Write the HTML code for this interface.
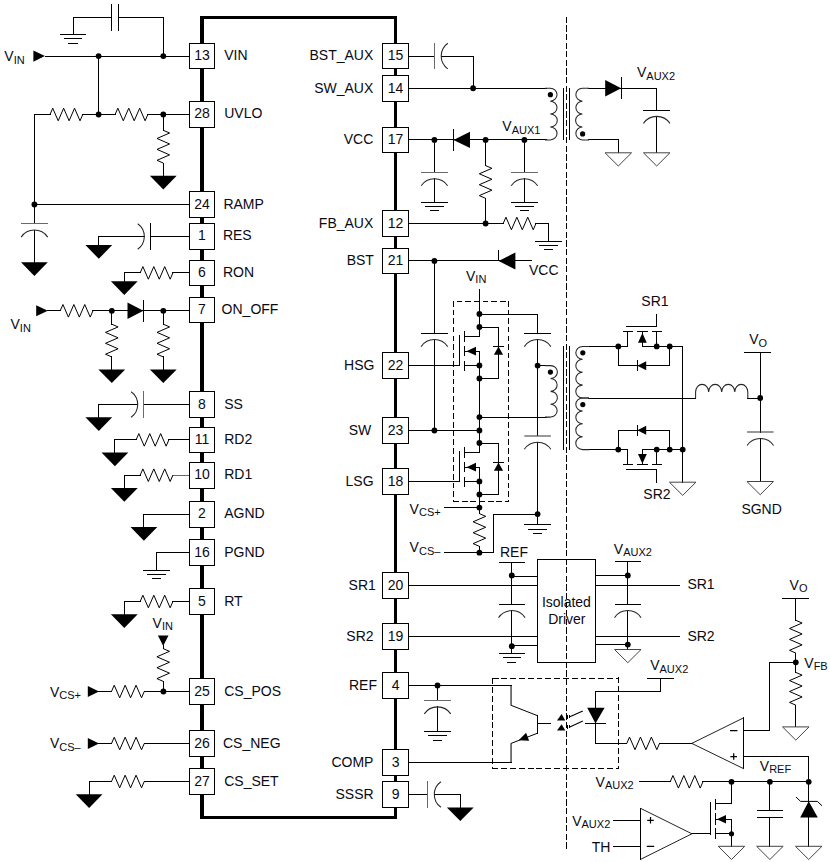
<!DOCTYPE html>
<html><head><meta charset="utf-8"><title>Typical application schematic</title>
<style>
html,body{margin:0;padding:0;background:#fff}
svg{display:block}
.w{fill:none;stroke:#000;stroke-width:1;stroke-linecap:butt;stroke-linejoin:miter}
.w .k{fill:#000;stroke:none}
.w .b{fill:#fff;stroke:#000;stroke-width:1}
.w .c{stroke:#262626;stroke-width:1.05}
.x{shape-rendering:crispEdges;stroke-linecap:square}
.t{font-family:"Liberation Sans",Arial,sans-serif;font-size:14px;fill:#0a0a14}
.t .s{font-size:11px}
</style></head><body>
<svg width="830" height="862" viewBox="0 0 830 862">
<rect width="830" height="862" fill="#fff"/>
<g class="w x">
<rect x="202" y="17.6" width="193.6" height="799.9" fill="none" stroke="#000" stroke-width="3.5"/>
<line x1="45.5" y1="56.5" x2="189.5" y2="56.5"/>
<line x1="163.5" y1="56.5" x2="163.5" y2="17.5"/>
<line x1="163.5" y1="17.5" x2="118.5" y2="17.5"/>
<line x1="118.5" y1="4.5" x2="118.5" y2="30.5"/>
<line x1="111.5" y1="4.5" x2="111.5" y2="30.5"/>
<line x1="111.5" y1="17.5" x2="73.5" y2="17.5"/>
<line x1="73.5" y1="17.5" x2="73.5" y2="34.5"/>
<line x1="60.5" y1="34.5" x2="85.5" y2="34.5"/>
<line x1="64.5" y1="38.5" x2="81.5" y2="38.5"/>
<line x1="68.5" y1="43.5" x2="77.5" y2="43.5"/>
<line x1="98.5" y1="56.5" x2="98.5" y2="114.5"/>
<line x1="34.5" y1="114.5" x2="50.5" y2="114.5"/>
<line x1="82.5" y1="114.5" x2="115.5" y2="114.5"/>
<line x1="147.5" y1="114.5" x2="189.5" y2="114.5"/>
<line x1="163.5" y1="114.5" x2="163.5" y2="130.5"/>
<line x1="163.5" y1="163.5" x2="163.5" y2="176.5"/>
<line x1="34.5" y1="114.5" x2="34.5" y2="223.5"/>
<line x1="34.5" y1="204.5" x2="189.5" y2="204.5"/>
<line x1="21.5" y1="223.5" x2="47.5" y2="223.5" stroke="#6a6a6a"/>
<line x1="34.5" y1="230.5" x2="34.5" y2="262.5"/>
<line x1="189.5" y1="236.5" x2="150.5" y2="236.5"/>
<line x1="150.5" y1="223.5" x2="150.5" y2="249.5"/>
<line x1="144.5" y1="236.5" x2="98.5" y2="236.5"/>
<line x1="98.5" y1="236.5" x2="98.5" y2="245.5"/>
<line x1="189.5" y1="272.5" x2="172.5" y2="272.5"/>
<line x1="140.5" y1="272.5" x2="124.5" y2="272.5"/>
<line x1="124.5" y1="272.5" x2="124.5" y2="281.5"/>
<line x1="47.5" y1="310.5" x2="60.5" y2="310.5"/>
<line x1="92.5" y1="310.5" x2="189.5" y2="310.5"/>
<line x1="143.5" y1="300.5" x2="143.5" y2="321.5"/>
<line x1="111.5" y1="310.5" x2="111.5" y2="324.5"/>
<line x1="111.5" y1="356.5" x2="111.5" y2="369.5"/>
<line x1="163.5" y1="310.5" x2="163.5" y2="324.5"/>
<line x1="163.5" y1="356.5" x2="163.5" y2="369.5"/>
<line x1="189.5" y1="404.5" x2="143.5" y2="404.5"/>
<line x1="143.5" y1="391.5" x2="143.5" y2="417.5" stroke="#6a6a6a"/>
<line x1="137.5" y1="404.5" x2="98.5" y2="404.5"/>
<line x1="98.5" y1="404.5" x2="98.5" y2="417.5"/>
<line x1="189.5" y1="439.5" x2="168.5" y2="439.5"/>
<line x1="136.5" y1="439.5" x2="114.5" y2="439.5"/>
<line x1="114.5" y1="439.5" x2="114.5" y2="452.5"/>
<line x1="189.5" y1="475.5" x2="172.5" y2="475.5" stroke="#6a6a6a"/>
<line x1="140.5" y1="475.5" x2="124.5" y2="475.5"/>
<line x1="124.5" y1="475.5" x2="124.5" y2="488.5"/>
<line x1="189.5" y1="514.5" x2="143.5" y2="514.5"/>
<line x1="143.5" y1="514.5" x2="143.5" y2="527.5"/>
<line x1="189.5" y1="552.5" x2="156.5" y2="552.5"/>
<line x1="156.5" y1="552.5" x2="156.5" y2="570.5"/>
<line x1="143.5" y1="570.5" x2="169.5" y2="570.5"/>
<line x1="147.5" y1="574.5" x2="165.5" y2="574.5"/>
<line x1="152.5" y1="578.5" x2="160.5" y2="578.5"/>
<line x1="189.5" y1="601.5" x2="172.5" y2="601.5"/>
<line x1="140.5" y1="601.5" x2="124.5" y2="601.5"/>
<line x1="124.5" y1="601.5" x2="124.5" y2="614.5"/>
<line x1="98.5" y1="691.5" x2="111.5" y2="691.5"/>
<line x1="144.5" y1="691.5" x2="189.5" y2="691.5"/>
<line x1="163.5" y1="645.5" x2="163.5" y2="648.5"/>
<line x1="163.5" y1="681.5" x2="163.5" y2="691.5"/>
<line x1="98.5" y1="743.5" x2="111.5" y2="743.5"/>
<line x1="144.5" y1="743.5" x2="189.5" y2="743.5"/>
<line x1="189.5" y1="781.5" x2="144.5" y2="781.5"/>
<line x1="111.5" y1="781.5" x2="89.5" y2="781.5"/>
<line x1="89.5" y1="781.5" x2="89.5" y2="794.5"/>
<line x1="566.5" y1="16.8" x2="566.5" y2="848.9" stroke-dasharray="6.1 2.5" stroke-linecap="butt"/>
<line x1="408.5" y1="56.5" x2="434.5" y2="56.5"/>
<line x1="434.5" y1="43.5" x2="434.5" y2="68.5" stroke="#6a6a6a"/>
<line x1="441.5" y1="56.5" x2="473.5" y2="56.5"/>
<line x1="473.5" y1="56.5" x2="473.5" y2="88.5"/>
<line x1="408.5" y1="88.5" x2="546.5" y2="88.5"/>
<line x1="563.5" y1="88.5" x2="563.5" y2="139.5" stroke="#000"/>
<line x1="569.5" y1="88.5" x2="569.5" y2="139.5" stroke="#000"/>
<line x1="588.5" y1="88.5" x2="656.5" y2="88.5"/>
<line x1="621.5" y1="77.5" x2="621.5" y2="98.5"/>
<line x1="656.5" y1="88.5" x2="656.5" y2="110.5"/>
<line x1="643.5" y1="110.5" x2="669.5" y2="110.5"/>
<line x1="656.5" y1="116.5" x2="656.5" y2="152.5"/>
<line x1="588.5" y1="139.5" x2="618.5" y2="139.5"/>
<line x1="618.5" y1="139.5" x2="618.5" y2="152.5"/>
<line x1="408.5" y1="139.5" x2="546.5" y2="139.5"/>
<line x1="453.5" y1="129.5" x2="453.5" y2="150.5"/>
<line x1="434.5" y1="139.5" x2="434.5" y2="172.5"/>
<line x1="421.5" y1="172.5" x2="447.5" y2="172.5" stroke="#6a6a6a"/>
<line x1="434.5" y1="178.5" x2="434.5" y2="202.5"/>
<line x1="421.5" y1="202.5" x2="447.5" y2="202.5"/>
<line x1="425.5" y1="206.5" x2="443.5" y2="206.5"/>
<line x1="430.5" y1="210.5" x2="438.5" y2="210.5"/>
<line x1="524.5" y1="139.5" x2="524.5" y2="172.5"/>
<line x1="511.5" y1="172.5" x2="537.5" y2="172.5" stroke="#6a6a6a"/>
<line x1="524.5" y1="178.5" x2="524.5" y2="202.5"/>
<line x1="511.5" y1="202.5" x2="537.5" y2="202.5"/>
<line x1="515.5" y1="206.5" x2="533.5" y2="206.5"/>
<line x1="520.5" y1="210.5" x2="528.5" y2="210.5"/>
<line x1="485.5" y1="139.5" x2="485.5" y2="165.5"/>
<line x1="485.5" y1="198.5" x2="485.5" y2="223.5"/>
<line x1="408.5" y1="223.5" x2="503.5" y2="223.5"/>
<line x1="535.5" y1="223.5" x2="548.5" y2="223.5"/>
<line x1="548.5" y1="223.5" x2="548.5" y2="241.5"/>
<line x1="535.5" y1="241.5" x2="561.5" y2="241.5"/>
<line x1="539.5" y1="245.5" x2="557.5" y2="245.5"/>
<line x1="544.5" y1="249.5" x2="552.5" y2="249.5"/>
<line x1="408.5" y1="260.5" x2="531.5" y2="260.5"/>
<line x1="498.5" y1="250.5" x2="498.5" y2="260.5"/>
<line x1="479.5" y1="289.5" x2="479.5" y2="336.5"/>
<line x1="479.5" y1="351.5" x2="479.5" y2="452.5"/>
<line x1="479.5" y1="467.5" x2="479.5" y2="513.5"/>
<line x1="479.5" y1="546.5" x2="479.5" y2="552.5"/>
<line x1="453.5" y1="300.9" x2="453.5" y2="502" stroke-dasharray="5.6 3.05" stroke-linecap="butt"/>
<line x1="508.5" y1="300.9" x2="508.5" y2="502" stroke-dasharray="5.6 3.05" stroke-linecap="butt"/>
<line x1="456.6" y1="301.5" x2="508.2" y2="301.5" stroke-dasharray="5.8 2.88" stroke-linecap="butt"/>
<line x1="452.9" y1="501.5" x2="509.1" y2="501.5" stroke-dasharray="5.95 2.75" stroke-linecap="butt"/>
<line x1="464.5" y1="331.5" x2="464.5" y2="341.5"/>
<line x1="464.5" y1="346.5" x2="464.5" y2="355.5"/>
<line x1="464.5" y1="361.5" x2="464.5" y2="370.5"/>
<line x1="464.5" y1="336.5" x2="479.5" y2="336.5"/>
<line x1="464.5" y1="365.5" x2="479.5" y2="365.5"/>
<line x1="464.5" y1="351.5" x2="479.5" y2="351.5"/>
<line x1="459.5" y1="335.5" x2="459.5" y2="365.5"/>
<line x1="408.5" y1="365.5" x2="459.5" y2="365.5"/>
<line x1="479.5" y1="327.5" x2="498.5" y2="327.5"/>
<line x1="498.5" y1="327.5" x2="498.5" y2="378.5"/>
<line x1="498.5" y1="378.5" x2="479.5" y2="378.5"/>
<line x1="493.5" y1="346.5" x2="503.5" y2="346.5"/>
<line x1="408.5" y1="430.5" x2="479.5" y2="430.5"/>
<line x1="464.5" y1="447.5" x2="464.5" y2="457.5"/>
<line x1="464.5" y1="462.5" x2="464.5" y2="471.5"/>
<line x1="464.5" y1="477.5" x2="464.5" y2="486.5"/>
<line x1="464.5" y1="452.5" x2="479.5" y2="452.5"/>
<line x1="464.5" y1="481.5" x2="479.5" y2="481.5"/>
<line x1="464.5" y1="467.5" x2="479.5" y2="467.5"/>
<line x1="459.5" y1="451.5" x2="459.5" y2="481.5"/>
<line x1="408.5" y1="481.5" x2="459.5" y2="481.5"/>
<line x1="479.5" y1="443.5" x2="498.5" y2="443.5"/>
<line x1="498.5" y1="443.5" x2="498.5" y2="494.5"/>
<line x1="498.5" y1="494.5" x2="479.5" y2="494.5"/>
<line x1="493.5" y1="462.5" x2="503.5" y2="462.5"/>
<line x1="434.5" y1="260.5" x2="434.5" y2="333.5"/>
<line x1="421.5" y1="333.5" x2="447.5" y2="333.5"/>
<line x1="434.5" y1="339.5" x2="434.5" y2="430.5"/>
<line x1="479.5" y1="314.5" x2="537.5" y2="314.5"/>
<line x1="537.5" y1="314.5" x2="537.5" y2="333.5"/>
<line x1="524.5" y1="333.5" x2="550.5" y2="333.5"/>
<line x1="537.5" y1="339.5" x2="537.5" y2="365.5"/>
<line x1="537.5" y1="365.5" x2="546.5" y2="365.5"/>
<line x1="479.5" y1="417.5" x2="546.5" y2="417.5"/>
<line x1="537.5" y1="365.5" x2="537.5" y2="435.5"/>
<line x1="537.5" y1="442.5" x2="537.5" y2="524.5"/>
<line x1="524.5" y1="524.5" x2="550.5" y2="524.5"/>
<line x1="528.5" y1="529.5" x2="546.5" y2="529.5"/>
<line x1="533.5" y1="533.5" x2="541.5" y2="533.5"/>
<line x1="444.5" y1="507.5" x2="479.5" y2="507.5"/>
<line x1="444.5" y1="552.5" x2="493.5" y2="552.5"/>
<line x1="493.5" y1="552.5" x2="493.5" y2="514.5"/>
<line x1="493.5" y1="514.5" x2="537.5" y2="514.5"/>
<line x1="563.5" y1="346.5" x2="563.5" y2="449.5" stroke="#000"/>
<line x1="569.5" y1="346.5" x2="569.5" y2="449.5" stroke="#000"/>
<line x1="588.5" y1="346.5" x2="618.5" y2="346.5"/>
<line x1="623.5" y1="331.5" x2="632.5" y2="331.5"/>
<line x1="637.5" y1="331.5" x2="647.5" y2="331.5"/>
<line x1="652.5" y1="331.5" x2="661.5" y2="331.5"/>
<line x1="618.5" y1="346.5" x2="627.5" y2="346.5"/>
<line x1="627.5" y1="346.5" x2="627.5" y2="331.5"/>
<line x1="656.5" y1="346.5" x2="656.5" y2="331.5"/>
<line x1="642.5" y1="331.5" x2="642.5" y2="346.5"/>
<line x1="642.5" y1="346.5" x2="656.5" y2="346.5"/>
<line x1="626.5" y1="326.5" x2="656.5" y2="326.5"/>
<line x1="656.5" y1="326.5" x2="656.5" y2="314.5"/>
<line x1="618.5" y1="346.5" x2="618.5" y2="365.5"/>
<line x1="618.5" y1="365.5" x2="669.5" y2="365.5"/>
<line x1="669.5" y1="365.5" x2="669.5" y2="346.5"/>
<line x1="637.5" y1="360.5" x2="637.5" y2="370.5"/>
<line x1="656.5" y1="346.5" x2="682.5" y2="346.5"/>
<line x1="682.5" y1="346.5" x2="682.5" y2="482.5"/>
<line x1="588.5" y1="449.5" x2="618.5" y2="449.5"/>
<line x1="623.5" y1="464.5" x2="632.5" y2="464.5"/>
<line x1="637.5" y1="464.5" x2="647.5" y2="464.5"/>
<line x1="652.5" y1="464.5" x2="661.5" y2="464.5"/>
<line x1="618.5" y1="449.5" x2="627.5" y2="449.5"/>
<line x1="627.5" y1="449.5" x2="627.5" y2="464.5"/>
<line x1="656.5" y1="449.5" x2="656.5" y2="464.5"/>
<line x1="642.5" y1="464.5" x2="642.5" y2="449.5"/>
<line x1="642.5" y1="449.5" x2="656.5" y2="449.5"/>
<line x1="626.5" y1="469.5" x2="656.5" y2="469.5"/>
<line x1="656.5" y1="469.5" x2="656.5" y2="482.5"/>
<line x1="618.5" y1="449.5" x2="618.5" y2="430.5"/>
<line x1="618.5" y1="430.5" x2="669.5" y2="430.5"/>
<line x1="669.5" y1="430.5" x2="669.5" y2="449.5"/>
<line x1="637.5" y1="425.5" x2="637.5" y2="435.5"/>
<line x1="656.5" y1="449.5" x2="682.5" y2="449.5"/>
<line x1="588.5" y1="398.5" x2="695.5" y2="398.5"/>
<line x1="747.5" y1="398.5" x2="760.5" y2="398.5"/>
<line x1="744.5" y1="352.5" x2="770.5" y2="352.5"/>
<line x1="760.5" y1="352.5" x2="760.5" y2="398.5"/>
<line x1="760.5" y1="398.5" x2="760.5" y2="432.5"/>
<line x1="760.5" y1="438.5" x2="760.5" y2="481.5"/>
<line x1="537.5" y1="559.5" x2="595.5" y2="559.5"/>
<line x1="595.5" y1="559.5" x2="595.5" y2="662.5"/>
<line x1="595.5" y1="662.5" x2="537.5" y2="662.5"/>
<line x1="537.5" y1="662.5" x2="537.5" y2="559.5"/>
<line x1="408.5" y1="585.5" x2="537.5" y2="585.5"/>
<line x1="408.5" y1="636.5" x2="537.5" y2="636.5"/>
<line x1="595.5" y1="585.5" x2="679.5" y2="585.5"/>
<line x1="595.5" y1="636.5" x2="679.5" y2="636.5"/>
<line x1="499.5" y1="562.5" x2="524.5" y2="562.5"/>
<line x1="511.5" y1="562.5" x2="511.5" y2="604.5"/>
<line x1="511.5" y1="576.5" x2="537.5" y2="576.5"/>
<line x1="499.5" y1="604.5" x2="524.5" y2="604.5"/>
<line x1="511.5" y1="610.5" x2="511.5" y2="653.5"/>
<line x1="511.5" y1="645.5" x2="537.5" y2="645.5"/>
<line x1="499.5" y1="653.5" x2="524.5" y2="653.5"/>
<line x1="503.5" y1="657.5" x2="520.5" y2="657.5"/>
<line x1="507.5" y1="662.5" x2="515.5" y2="662.5"/>
<line x1="615.5" y1="561.5" x2="640.5" y2="561.5"/>
<line x1="627.5" y1="561.5" x2="627.5" y2="604.5"/>
<line x1="595.5" y1="575.5" x2="627.5" y2="575.5"/>
<line x1="615.5" y1="604.5" x2="640.5" y2="604.5"/>
<line x1="627.5" y1="610.5" x2="627.5" y2="649.5"/>
<line x1="595.5" y1="644.5" x2="627.5" y2="644.5"/>
<line x1="408.5" y1="685.5" x2="511.5" y2="685.5"/>
<line x1="437.5" y1="685.5" x2="437.5" y2="700.5"/>
<line x1="424.5" y1="700.5" x2="450.5" y2="700.5" stroke="#6a6a6a"/>
<line x1="437.5" y1="706.5" x2="437.5" y2="731.5"/>
<line x1="424.5" y1="731.5" x2="450.5" y2="731.5"/>
<line x1="428.5" y1="735.5" x2="446.5" y2="735.5"/>
<line x1="433.5" y1="740.5" x2="441.5" y2="740.5"/>
<line x1="537.5" y1="715.5" x2="537.5" y2="733.5"/>
<line x1="408.5" y1="762.5" x2="511.5" y2="762.5"/>
<line x1="537.5" y1="723.5" x2="550.5" y2="723.5"/>
<line x1="492.5" y1="678.2" x2="492.5" y2="768.9" stroke-dasharray="5.9 2.95" stroke-linecap="butt"/>
<line x1="618.5" y1="677.2" x2="618.5" y2="768.9" stroke-dasharray="5.9 2.95" stroke-linecap="butt"/>
<line x1="492.6" y1="678.5" x2="619.3" y2="678.5" stroke-dasharray="5.9 2.89" stroke-linecap="butt"/>
<line x1="492.2" y1="768.5" x2="619.3" y2="768.5" stroke-dasharray="5.9 2.95" stroke-linecap="butt"/>
<line x1="567.5" y1="715.5" x2="567.5" y2="718.5"/>
<line x1="569.5" y1="715.5" x2="569.5" y2="717.5"/>
<line x1="567.5" y1="725.5" x2="567.5" y2="728.5"/>
<line x1="569.5" y1="725.5" x2="569.5" y2="727.5"/>
<line x1="660.5" y1="678.5" x2="660.5" y2="691.5"/>
<line x1="660.5" y1="691.5" x2="595.5" y2="691.5"/>
<line x1="595.5" y1="691.5" x2="595.5" y2="743.5"/>
<line x1="595.5" y1="743.5" x2="626.5" y2="743.5"/>
<line x1="647.5" y1="678.5" x2="673.5" y2="678.5"/>
<line x1="585.5" y1="723.5" x2="605.5" y2="723.5"/>
<line x1="659.5" y1="743.5" x2="692.5" y2="743.5"/>
<line x1="743.5" y1="717.5" x2="743.5" y2="768.5"/>
<line x1="743.5" y1="730.5" x2="769.5" y2="730.5"/>
<line x1="769.5" y1="730.5" x2="769.5" y2="662.5"/>
<line x1="769.5" y1="662.5" x2="795.5" y2="662.5"/>
<line x1="782.5" y1="598.5" x2="808.5" y2="598.5"/>
<line x1="795.5" y1="598.5" x2="795.5" y2="620.5"/>
<line x1="795.5" y1="653.5" x2="795.5" y2="672.5"/>
<line x1="795.5" y1="705.5" x2="795.5" y2="726.5"/>
<line x1="743.5" y1="756.5" x2="808.5" y2="756.5"/>
<line x1="808.5" y1="756.5" x2="808.5" y2="846.5"/>
<line x1="639.5" y1="781.5" x2="670.5" y2="781.5"/>
<line x1="702.5" y1="781.5" x2="808.5" y2="781.5"/>
<line x1="769.5" y1="781.5" x2="769.5" y2="810.5"/>
<line x1="757.5" y1="810.5" x2="782.5" y2="810.5"/>
<line x1="757.5" y1="817.5" x2="782.5" y2="817.5"/>
<line x1="769.5" y1="817.5" x2="769.5" y2="846.5"/>
<line x1="731.5" y1="781.5" x2="731.5" y2="803.5"/>
<line x1="731.5" y1="803.5" x2="715.5" y2="803.5"/>
<line x1="715.5" y1="799.5" x2="715.5" y2="809.5"/>
<line x1="715.5" y1="813.5" x2="715.5" y2="824.5"/>
<line x1="715.5" y1="828.5" x2="715.5" y2="838.5"/>
<line x1="710.5" y1="802.5" x2="710.5" y2="834.5"/>
<line x1="715.5" y1="819.5" x2="731.5" y2="819.5"/>
<line x1="731.5" y1="819.5" x2="731.5" y2="846.5"/>
<line x1="715.5" y1="833.5" x2="731.5" y2="833.5"/>
<line x1="640.5" y1="808.5" x2="640.5" y2="859.5"/>
<line x1="691.5" y1="833.5" x2="710.5" y2="833.5"/>
<line x1="613.5" y1="820.5" x2="640.5" y2="820.5"/>
<line x1="613.5" y1="846.5" x2="640.5" y2="846.5"/>
<line x1="408.5" y1="794.5" x2="427.5" y2="794.5"/>
<line x1="427.5" y1="781.5" x2="427.5" y2="807.5" stroke="#6a6a6a"/>
<line x1="434.5" y1="794.5" x2="460.5" y2="794.5"/>
<line x1="460.5" y1="794.5" x2="460.5" y2="807.5"/>
</g>
<g class="w">
<polygon class="k" points="33.4,50.5 33.4,61.7 44.9,56.1"/>
<circle class="k" cx="98.6" cy="56.1" r="2.9"/>
<circle class="k" cx="163.3" cy="56.1" r="2.9"/>
<circle class="k" cx="98.6" cy="114.5" r="2.9"/>
<circle class="k" cx="163.3" cy="114.5" r="2.9"/>
<polyline points="50,114.5 52.73,108.2 58.19,120.8 63.65,108.2 69.1,120.8 74.56,108.2 80.02,120.8 82.75,114.5"/>
<polyline points="115.1,114.5 117.83,108.2 123.29,120.8 128.75,108.2 134.2,120.8 139.66,108.2 145.12,120.8 147.85,114.5"/>
<polyline points="163.3,130.3 169.6,133.03 157,138.49 169.6,143.95 157,149.4 169.6,154.86 157,160.32 163.3,163.05"/>
<polygon class="k" points="149.9,175.8 176.7,175.8 163.3,189.5"/>
<circle class="k" cx="34.4" cy="204.5" r="2.9"/>
<path d="M21.15 237.1 A16.04 16.04 0 0 1 47.65 237.1" class="c"/>
<polygon class="k" points="21,262.2 47.8,262.2 34.4,275.9"/>
<path d="M137.7 223.7 A15.71 15.71 0 0 1 137.7 249.3" class="c"/>
<polygon class="k" points="85.4,245.1 112.2,245.1 98.8,258.8"/>
<polyline points="140.15,272.9 142.88,266.6 148.34,279.2 153.8,266.6 159.25,279.2 164.71,266.6 170.17,279.2 172.9,272.9"/>
<polygon class="k" points="110.9,281.2 137.7,281.2 124.3,294.9"/>
<polygon class="k" points="36.2,305.3 36.2,316.3 47.8,310.8"/>
<polyline points="60.2,310.8 62.93,304.5 68.39,317.1 73.85,304.5 79.3,317.1 84.76,304.5 90.22,317.1 92.95,310.8"/>
<circle class="k" cx="111.8" cy="310.8" r="2.9"/>
<circle class="k" cx="163.3" cy="310.8" r="2.9"/>
<polygon class="k" points="127.5,302.6 127.5,319 143.4,310.8"/>
<polyline points="111.8,324.2 118.1,326.93 105.5,332.39 118.1,337.85 105.5,343.3 118.1,348.76 105.5,354.22 111.8,356.95"/>
<polygon class="k" points="98.4,369.4 125.2,369.4 111.8,383.1"/>
<polyline points="163.3,324.2 169.6,326.93 157,332.39 169.6,337.85 157,343.3 169.6,348.76 157,354.22 163.3,356.95"/>
<polygon class="k" points="149.9,369.4 176.7,369.4 163.3,383.1"/>
<path d="M131.1 391.7 A15.71 15.71 0 0 1 131.1 417.3" class="c"/>
<polygon class="k" points="85.4,417.2 112.2,417.2 98.8,430.9"/>
<polyline points="136.1,439.9 138.83,433.6 144.29,446.2 149.75,433.6 155.2,446.2 160.66,433.6 166.12,446.2 168.85,439.9"/>
<polygon class="k" points="101.5,452.6 128.3,452.6 114.9,466.3"/>
<polyline points="140.15,475.2 142.88,468.9 148.34,481.5 153.8,468.9 159.25,481.5 164.71,468.9 170.17,481.5 172.9,475.2"/>
<polygon class="k" points="110.9,488.1 137.7,488.1 124.3,501.8"/>
<polygon class="k" points="130.5,527.1 157.3,527.1 143.9,540.8"/>
<polyline points="140.15,601.5 142.88,595.2 148.34,607.8 153.8,595.2 159.25,607.8 164.71,595.2 170.17,607.8 172.9,601.5"/>
<polygon class="k" points="110.9,614.3 137.7,614.3 124.3,628"/>
<polygon class="k" points="87.8,686 87.8,697 99,691.5"/>
<polyline points="111.5,691.5 114.23,685.2 119.69,697.8 125.15,685.2 130.6,697.8 136.06,685.2 141.52,697.8 144.25,691.5"/>
<circle class="k" cx="163.4" cy="691.5" r="2.9"/>
<polygon class="k" points="157.9,635.4 168.5,635.4 163.2,646"/>
<polyline points="163.2,648.6 169.5,651.33 156.9,656.79 169.5,662.25 156.9,667.7 169.5,673.16 156.9,678.62 163.2,681.35"/>
<polygon class="k" points="87.8,738 87.8,749 99,743.5"/>
<polyline points="111.5,743.5 114.23,737.2 119.69,749.8 125.15,737.2 130.6,749.8 136.06,737.2 141.52,749.8 144.25,743.5"/>
<polyline points="111.5,781.5 114.23,775.2 119.69,787.8 125.15,775.2 130.6,787.8 136.06,775.2 141.52,787.8 144.25,781.5"/>
<polygon class="k" points="75.7,794.2 102.5,794.2 89.1,807.9"/>
<path d="M447.8 43.3 A15.71 15.71 0 0 0 447.8 68.9" class="c"/>
<circle class="k" cx="473.1" cy="88.25" r="2.9"/>
<path d="M545 88.25 L550.3 88.25 A7 6.46 0 0 1 550.3 101.16 A7 6.46 0 0 1 550.3 114.07 A7 6.46 0 0 1 550.3 126.99 A7 6.46 0 0 1 550.3 139.9 L545 139.9" class="c"/>
<circle class="k" cx="550.4" cy="94.65" r="2.6"/>
<path d="M589 88.25 L582.4 88.25 A6.8 6.46 0 0 0 582.4 101.16 A6.8 6.46 0 0 0 582.4 114.07 A6.8 6.46 0 0 0 582.4 126.99 A6.8 6.46 0 0 0 582.4 139.9 L589 139.9" class="c"/>
<circle class="k" cx="582.6" cy="133.9" r="2.6"/>
<polygon class="k" points="605.2,80.05 605.2,96.45 621.2,88.25"/>
<path d="M643.45 123.4 A16.04 16.04 0 0 1 669.95 123.4" class="c"/>
<polygon points="643.45,152.8 669.95,152.8 656.7,166" stroke-width="1" stroke="#444"/>
<polygon points="605.05,152.8 631.55,152.8 618.3,166" stroke-width="1" stroke="#444"/>
<circle class="k" cx="434.4" cy="139.9" r="2.9"/>
<circle class="k" cx="485.6" cy="139.9" r="2.9"/>
<circle class="k" cx="524.4" cy="139.9" r="2.9"/>
<polygon class="k" points="470,131.7 470,148.1 453.5,139.9"/>
<path d="M421.15 185.7 A16.04 16.04 0 0 1 447.65 185.7" class="c"/>
<path d="M511.15 185.7 A16.04 16.04 0 0 1 537.65 185.7" class="c"/>
<polyline points="485.6,165.6 491.9,168.33 479.3,173.79 491.9,179.25 479.3,184.7 491.9,190.16 479.3,195.62 485.6,198.35"/>
<circle class="k" cx="485.6" cy="223.5" r="2.9"/>
<polyline points="503.2,223.5 505.93,217.2 511.39,229.8 516.85,217.2 522.3,229.8 527.76,217.2 533.22,229.8 535.95,223.5"/>
<circle class="k" cx="434.4" cy="260.9" r="2.9"/>
<polygon class="k" points="515.4,252.4 515.4,269.4 498.6,260.9"/>
<circle class="k" cx="479.4" cy="314" r="2.9"/>
<circle class="k" cx="479.4" cy="327" r="2.9"/>
<circle class="k" cx="479.4" cy="365.4" r="2.9"/>
<circle class="k" cx="479.4" cy="378.5" r="2.9"/>
<polygon class="k" points="466.4,351.2 476,346.8 476,355.6"/>
<polygon class="k" points="498.5,346.4 493.9,354.8 503.1,354.8"/>
<circle class="k" cx="479.4" cy="417.1" r="2.9"/>
<circle class="k" cx="479.4" cy="430.5" r="2.9"/>
<circle class="k" cx="434.4" cy="430.5" r="2.9"/>
<circle class="k" cx="479.4" cy="443" r="2.9"/>
<circle class="k" cx="479.4" cy="481.4" r="2.9"/>
<circle class="k" cx="479.4" cy="494.5" r="2.9"/>
<polygon class="k" points="466.4,467.2 476,462.8 476,471.6"/>
<polygon class="k" points="498.5,462.4 493.9,470.8 503.1,470.8"/>
<path d="M421.15 346.6 A16.04 16.04 0 0 1 447.65 346.6" class="c"/>
<path d="M524.35 346.6 A16.04 16.04 0 0 1 550.85 346.6" class="c"/>
<circle class="k" cx="537.6" cy="365.6" r="2.9"/>
<path d="M545 365.6 L550.6 365.6 A6.8 6.44 0 0 1 550.6 378.48 A6.8 6.44 0 0 1 550.6 391.35 A6.8 6.44 0 0 1 550.6 404.23 A6.8 6.44 0 0 1 550.6 417.1 L545 417.1" class="c"/>
<circle class="k" cx="550.4" cy="372.1" r="2.6"/>
<line x1="524.35" y1="436" x2="550.85" y2="436" stroke="#444" stroke-width="1.1"/>
<path d="M524.35 449.2 A16.04 16.04 0 0 1 550.85 449.2" class="c"/>
<circle class="k" cx="537.6" cy="514.1" r="2.9"/>
<circle class="k" cx="479.4" cy="507.6" r="2.9"/>
<circle class="k" cx="479.4" cy="552.7" r="2.9"/>
<polyline points="479.4,513.6 485.7,516.33 473.1,521.79 485.7,527.25 473.1,532.7 485.7,538.16 473.1,543.62 479.4,546.35"/>
<path d="M589 346.4 L582.6 346.4 A6.8 6.45 0 0 0 582.6 359.3 A6.8 6.45 0 0 0 582.6 372.2 A6.8 6.45 0 0 0 582.6 385.1 A6.8 6.45 0 0 0 582.6 398 L589 398" class="c"/>
<path d="M589 398 L582.6 398 A6.8 6.45 0 0 0 582.6 410.9 A6.8 6.45 0 0 0 582.6 423.8 A6.8 6.45 0 0 0 582.6 436.7 A6.8 6.45 0 0 0 582.6 449.6 L589 449.6" class="c"/>
<circle class="k" cx="582.8" cy="352.8" r="2.6"/>
<circle class="k" cx="582.8" cy="404.6" r="2.6"/>
<circle class="k" cx="618.3" cy="346.4" r="2.9"/>
<circle class="k" cx="656.7" cy="346.4" r="2.9"/>
<circle class="k" cx="669.7" cy="346.4" r="2.9"/>
<polygon class="k" points="642.4,332.9 638,342.7 646.8,342.7"/>
<polygon class="k" points="637.4,365.7 646.2,361.2 646.2,370.2"/>
<circle class="k" cx="618.3" cy="449.6" r="2.9"/>
<circle class="k" cx="656.7" cy="449.6" r="2.9"/>
<circle class="k" cx="669.7" cy="449.6" r="2.9"/>
<circle class="k" cx="682.7" cy="449.6" r="2.9"/>
<polygon class="k" points="642.4,463.7 638,453.9 646.8,453.9"/>
<polygon class="k" points="637.4,430.3 646.2,425.8 646.2,434.8"/>
<polygon points="669.45,482.2 695.95,482.2 682.7,495.4" stroke-width="1" stroke="#444"/>
<path d="M695.6 398 L695.6 392 A6.52 7.6 0 0 1 708.65 392 A6.52 7.6 0 0 1 721.7 392 A6.52 7.6 0 0 1 734.75 392 A6.52 7.6 0 0 1 747.8 392 L747.8 398" class="c"/>
<circle class="k" cx="760.2" cy="398" r="2.9"/>
<line x1="747.05" y1="432" x2="773.55" y2="432" stroke="#444" stroke-width="1.1"/>
<path d="M747.05 445.5 A16.04 16.04 0 0 1 773.55 445.5" class="c"/>
<polygon points="746.95,481.5 773.45,481.5 760.2,494.7" stroke-width="1" stroke="#444"/>
<circle class="k" cx="511.8" cy="575.4" r="2.9"/>
<path d="M498.55 617.6 A16.04 16.04 0 0 1 525.05 617.6" class="c"/>
<circle class="k" cx="511.8" cy="646.2" r="2.9"/>
<circle class="k" cx="627.8" cy="575.4" r="2.9"/>
<path d="M614.55 617.6 A16.04 16.04 0 0 1 641.05 617.6" class="c"/>
<circle class="k" cx="627.8" cy="644.6" r="2.9"/>
<polygon points="614.55,649.5 641.05,649.5 627.8,662.7" stroke-width="1" stroke="#444"/>
<circle class="k" cx="437.5" cy="685.5" r="2.9"/>
<path d="M424.25 713.9 A16.04 16.04 0 0 1 450.75 713.9" class="c"/>
<path d="M511.05 685.5 V705.5 M511.05 743.3 V762.5" stroke-width="1.05"/>
<line x1="511.1" y1="705.3" x2="538" y2="715.9"/>
<line x1="538" y1="733" x2="511.1" y2="743.4"/>
<polygon class="k" points="518.6,740.2 526.1,732.8 529.1,740.7"/>
<line x1="582.8" y1="711" x2="569.8" y2="716.8" stroke-width="1.1"/>
<polygon class="k" points="557,720.5 561.6,714.1 565.3,720.5"/>
<line x1="582.8" y1="721.1" x2="569.8" y2="726.9" stroke-width="1.1"/>
<polygon class="k" points="557,730.6 561.6,724.2 565.3,730.6"/>
<polygon class="k" points="587.2,707.7 604.6,707.7 595.5,723.6"/>
<polyline points="626.8,743.4 629.53,737.1 634.99,749.7 640.45,737.1 645.9,749.7 651.36,737.1 656.82,749.7 659.55,743.4"/>
<polyline points="743.9,717.7 691.8,743.4 743.9,768.8" stroke-width="1" stroke="#222"/>
<path d="M730 730.6H737.4M730.4 756.5H737M733.7 753.2V759.8" stroke-width="1.25"/>
<circle class="k" cx="795.8" cy="662.3" r="2.9"/>
<polyline points="795.8,620.3 802.1,623.03 789.5,628.49 802.1,633.95 789.5,639.4 802.1,644.86 789.5,650.32 795.8,653.05"/>
<polyline points="795.8,672.4 802.1,675.13 789.5,680.59 802.1,686.05 789.5,691.5 802.1,696.96 789.5,702.42 795.8,705.15"/>
<polygon points="782.55,726.9 809.05,726.9 795.8,740.1" stroke-width="1" stroke="#444"/>
<polyline points="670.2,781.8 672.93,775.5 678.39,788.1 683.85,775.5 689.3,788.1 694.76,775.5 700.22,788.1 702.95,781.8"/>
<circle class="k" cx="731.5" cy="781.8" r="2.9"/>
<circle class="k" cx="769.9" cy="781.8" r="2.9"/>
<circle class="k" cx="808.7" cy="781.8" r="2.9"/>
<polygon class="k" points="808.7,801.2 800.2,817.6 817.8,817.6"/>
<polyline points="796,797 800.6,801.4 817.4,801.4 822,805.8"/>
<polygon points="795.45,846.3 821.95,846.3 808.7,859.5" stroke-width="1" stroke="#444"/>
<polygon points="756.65,846.3 783.15,846.3 769.9,859.5" stroke-width="1" stroke="#444"/>
<polygon class="k" points="716.9,819.2 726,815 726,823.4"/>
<circle class="k" cx="731.5" cy="833.8" r="2.6"/>
<polygon points="718.25,846.3 744.75,846.3 731.5,859.5" stroke-width="1" stroke="#444"/>
<polyline points="640.7,808.4 691.9,833.8 640.7,859.3" stroke-width="1" stroke="#222"/>
<path d="M647.2 820.3H653.8M650.5 817V823.6M646.8 846.3H654.2" stroke-width="1.25"/>
<path d="M440.9 781.7 A15.71 15.71 0 0 0 440.9 807.3" class="c"/>
<polygon class="k" points="446.9,807.4 473.7,807.4 460.3,821.1"/>
</g>
<g class="w x">
<rect class="b" x="189.5" y="43.5" width="25" height="25"/>
<rect class="b" x="189.5" y="101.5" width="25" height="26"/>
<rect class="b" x="189.5" y="191.5" width="25" height="26"/>
<rect class="b" x="189.5" y="223.5" width="25" height="26"/>
<rect class="b" x="189.5" y="260.5" width="25" height="25"/>
<rect class="b" x="189.5" y="297.5" width="25" height="25"/>
<rect class="b" x="189.5" y="391.5" width="25" height="26"/>
<rect class="b" x="189.5" y="427.5" width="25" height="25"/>
<rect class="b" x="189.5" y="462.5" width="25" height="26"/>
<rect class="b" x="189.5" y="501.5" width="25" height="26"/>
<rect class="b" x="189.5" y="539.5" width="25" height="26"/>
<rect class="b" x="189.5" y="588.5" width="25" height="26"/>
<rect class="b" x="189.5" y="678.5" width="25" height="26"/>
<rect class="b" x="189.5" y="730.5" width="25" height="26"/>
<rect class="b" x="189.5" y="768.5" width="25" height="26"/>
<rect class="b" x="382.5" y="43.5" width="26" height="25"/>
<rect class="b" x="382.5" y="75.5" width="26" height="26"/>
<rect class="b" x="382.5" y="127.5" width="26" height="25"/>
<rect class="b" x="382.5" y="210.5" width="26" height="26"/>
<rect class="b" x="382.5" y="248.5" width="26" height="25"/>
<rect class="b" x="382.5" y="352.5" width="26" height="26"/>
<rect class="b" x="382.5" y="417.5" width="26" height="26"/>
<rect class="b" x="382.5" y="468.5" width="26" height="26"/>
<rect class="b" x="382.5" y="572.5" width="26" height="26"/>
<rect class="b" x="382.5" y="623.5" width="26" height="26"/>
<rect class="b" x="382.5" y="672.5" width="26" height="26"/>
<rect class="b" x="382.5" y="749.5" width="26" height="26"/>
<rect class="b" x="382.5" y="781.5" width="26" height="26"/>
</g>
<g class="t">
<text x="4.3" y="61">V<tspan class="s" dy="2.9">IN</tspan></text>
<text x="10.5" y="329.1">V<tspan class="s" dy="3">IN</tspan></text>
<text x="50" y="696.6">V<tspan class="s" dy="2.3">CS+</tspan></text>
<text x="152.6" y="627.7">V<tspan class="s" dy="2.6">IN</tspan></text>
<text x="50" y="748">V<tspan class="s" dy="3">CS–</tspan></text>
<text x="637" y="77">V<tspan class="s" dy="3">AUX2</tspan></text>
<text x="502.3" y="131">V<tspan class="s" dy="3">AUX1</tspan></text>
<text x="529" y="275.2">VCC</text>
<text x="466" y="280.6">V<tspan class="s" dy="2.2">IN</tspan></text>
<text x="409.6" y="513.8">V<tspan class="s" dy="2.4">CS+</tspan></text>
<text x="409.6" y="551.6">V<tspan class="s" dy="3.2">CS–</tspan></text>
<text x="641.3" y="305.6">SR1</text>
<text x="643.3" y="498.5">SR2</text>
<text x="749.2" y="344.4">V<tspan class="s" dy="2.2">O</tspan></text>
<text x="741.4" y="513.7">SGND</text>
<text x="566.4" y="606.8" text-anchor="middle">Isolated</text>
<text x="566.8" y="624" text-anchor="middle">Driver</text>
<text x="687.4" y="588.8">SR1</text>
<text x="687.4" y="641.2">SR2</text>
<text x="500" y="556.7">REF</text>
<text x="613.8" y="553.8">V<tspan class="s" dy="2.4">AUX2</tspan></text>
<text x="650.2" y="670.2">V<tspan class="s" dy="2.4">AUX2</tspan></text>
<text x="804.3" y="668">V<tspan class="s" dy="2.2">FB</tspan></text>
<text x="789.6" y="589.8">V<tspan class="s" dy="2.2">O</tspan></text>
<text x="759.8" y="771.4">V<tspan class="s" dy="1.8">REF</tspan></text>
<text x="595.6" y="786.7">V<tspan class="s" dy="2.4">AUX2</tspan></text>
<text x="572.2" y="825.8">V<tspan class="s" dy="2.4">AUX2</tspan></text>
<text x="591.7" y="851.8">TH</text>
<text x="202" y="60" text-anchor="middle">13</text>
<text x="224.2" y="60">VIN</text>
<text x="202" y="118.4" text-anchor="middle">28</text>
<text x="224.2" y="118.4">UVLO</text>
<text x="202" y="209" text-anchor="middle">24</text>
<text x="223.4" y="209">RAMP</text>
<text x="202" y="240.4" text-anchor="middle">1</text>
<text x="222.9" y="240.4">RES</text>
<text x="202" y="276.8" text-anchor="middle">6</text>
<text x="222.9" y="276.8">RON</text>
<text x="202" y="314" text-anchor="middle">7</text>
<text x="221.6" y="314">ON_OFF</text>
<text x="202" y="408.8" text-anchor="middle">8</text>
<text x="224.2" y="408.8">SS</text>
<text x="202" y="443.8" text-anchor="middle">11</text>
<text x="224.2" y="443.8">RD2</text>
<text x="202" y="479.1" text-anchor="middle">10</text>
<text x="224.2" y="479.1">RD1</text>
<text x="202" y="518.4" text-anchor="middle">2</text>
<text x="224.2" y="518.4">AGND</text>
<text x="202" y="556.9" text-anchor="middle">16</text>
<text x="224.2" y="556.9">PGND</text>
<text x="202" y="606.1" text-anchor="middle">5</text>
<text x="224.2" y="606.1">RT</text>
<text x="202" y="696.1" text-anchor="middle">25</text>
<text x="224.2" y="696.1">CS_POS</text>
<text x="202" y="748.1" text-anchor="middle">26</text>
<text x="223" y="748.1">CS_NEG</text>
<text x="202" y="786.1" text-anchor="middle">27</text>
<text x="224.2" y="786.1">CS_SET</text>
<text x="395.6" y="60" text-anchor="middle">15</text>
<text x="373.3" y="60" text-anchor="end">BST_AUX</text>
<text x="395.6" y="92.85" text-anchor="middle">14</text>
<text x="373.3" y="92.85" text-anchor="end">SW_AUX</text>
<text x="395.6" y="143.8" text-anchor="middle">17</text>
<text x="373.3" y="143.8" text-anchor="end">VCC</text>
<text x="395.6" y="228.1" text-anchor="middle">12</text>
<text x="373.3" y="228.1" text-anchor="end">FB_AUX</text>
<text x="395.6" y="264.8" text-anchor="middle">21</text>
<text x="373.9" y="264.8" text-anchor="end">BST</text>
<text x="395.6" y="370.1" text-anchor="middle">22</text>
<text x="374.4" y="370.1" text-anchor="end">HSG</text>
<text x="395.6" y="435.1" text-anchor="middle">23</text>
<text x="371.2" y="435.1" text-anchor="end">SW</text>
<text x="395.6" y="486.1" text-anchor="middle">18</text>
<text x="373.6" y="486.1" text-anchor="end">LSG</text>
<text x="395.6" y="590.1" text-anchor="middle">20</text>
<text x="375.8" y="590.1" text-anchor="end">SR1</text>
<text x="395.6" y="641.1" text-anchor="middle">19</text>
<text x="373.6" y="641.1" text-anchor="end">SR2</text>
<text x="395.6" y="690.1" text-anchor="middle">4</text>
<text x="377" y="690.1" text-anchor="end">REF</text>
<text x="395.6" y="767.1" text-anchor="middle">3</text>
<text x="373.4" y="767.1" text-anchor="end">COMP</text>
<text x="395.6" y="799.1" text-anchor="middle">9</text>
<text x="373.6" y="799.1" text-anchor="end">SSSR</text>
</g>
</svg>
</body></html>
